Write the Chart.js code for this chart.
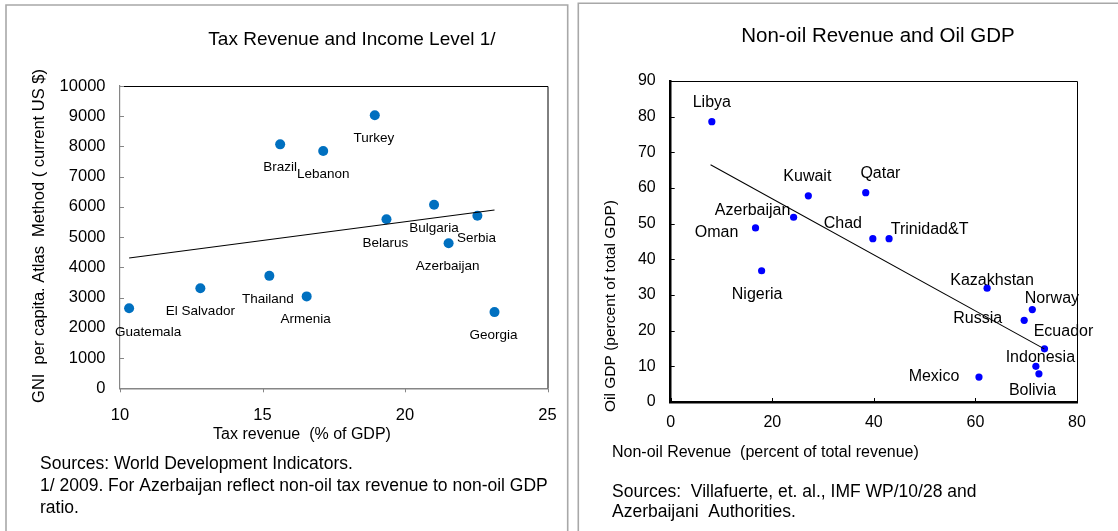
<!DOCTYPE html>
<html><head><meta charset="utf-8">
<script src="https://cdn.jsdelivr.net/npm/chart.js@4.4.1/dist/chart.umd.min.js"></script>
<style>
html,body{margin:0;padding:0;background:#fff;}
#wrap{position:relative;width:1118px;height:531px;overflow:hidden;background:#fff;}
canvas{position:absolute;left:0;top:0;}
</style></head><body>
<div id="wrap"><canvas id="c1" width="1118" height="531"></canvas><canvas id="c2" width="1118" height="531"></canvas></div>
<script>
// ---------- Left chart data: Tax Revenue and Income Level ----------
const taxCountries = ['Brazil','Lebanon','Turkey','Belarus','Bulgaria','Serbia','Azerbaijan','Guatemala','El Salvador','Thailand','Armenia','Georgia'];
const taxRevenue   = [15.62, 17.13, 18.94, 19.35, 21.02, 22.54, 21.53, 10.32, 12.82, 15.24, 16.55, 23.14];
const gniPerCapita = [8070, 7850, 9030, 5590, 6070, 5710, 4800, 2650, 3310, 3720, 3040, 2520];
const taxTrendX = [10.32, 23.14];
const taxTrendY = [4310, 5900];
const taxXTicks = [10, 15, 20, 25];
const taxYTicks = [0, 1000, 2000, 3000, 4000, 5000, 6000, 7000, 8000, 9000, 10000];

// ---------- Right chart data: Non-oil Revenue and Oil GDP ----------
const oilCountries  = ['Libya','Kuwait','Qatar','Azerbaijan','Oman','Chad','Trinidad&T','Nigeria','Kazakhstan','Norway','Russia','Ecuador','Indonesia','Bolivia','Mexico'];
const nonOilRevenue = [8.1, 27.1, 38.4, 24.2, 16.7, 39.8, 43.0, 17.9, 62.3, 71.2, 69.6, 73.6, 71.9, 72.5, 60.7];
const oilGdp        = [78.6, 57.8, 58.7, 51.8, 48.8, 45.8, 45.8, 36.8, 31.9, 25.9, 22.9, 14.9, 10.0, 7.9, 7.0];
const oilTrendX = [7.85, 73.55];
const oilTrendY = [66.5, 14.9];
const oilXTicks = [0, 20, 40, 60, 80];
const oilYTicks = [0, 10, 20, 30, 40, 50, 60, 70, 80, 90];

// ---------- label offsets (layout, not data) ----------
const taxLabelOffsets = [[0,23],[0,23],[-1,23],[-1,23.5],[0,23.5],[-1,23],[-1,23.5],[19,24.5],[0,23.5],[-1.5,23],[-1,23],[-1,23]];
const oilLabelOffsets = [[0,-19],[-1,-19.3],[14.7,-19.4],[-41,-6.3],[-39,4.7],[-30,-14.7],[40.5,-9.4],[-4.5,24.3],[5,-7.3],[19.6,-11.4],[-46.5,-1.3],[19,-17.7],[4.5,-8.6],[-6.4,17],[-45,0]];

const FONT = '"Liberation Sans", Arial, sans-serif';

const decor = {
  id: 'decor',
  afterDraw(chart, args, o) {
    const ctx = chart.ctx, a = chart.chartArea;
    ctx.save();
    // panel border
    ctx.strokeStyle = '#a8a8a8'; ctx.lineWidth = 1.6;
    ctx.beginPath();
    o.panel.forEach((p, i) => i ? ctx.lineTo(p[0], p[1]) : ctx.moveTo(p[0], p[1]));
    ctx.stroke();
    // top/right plot border
    ctx.strokeStyle = '#000'; ctx.lineWidth = 1;
    ctx.beginPath();
    ctx.moveTo(a.left, a.top + 0.5); ctx.lineTo(a.right + 0.5, a.top + 0.5); ctx.lineTo(a.right + 0.5, a.bottom);
    ctx.stroke();
    // tick marks
    ctx.strokeStyle = o.tickColor; ctx.lineWidth = 1;
    const xs = chart.scales.x, ys = chart.scales.y;
    ys.ticks.forEach(t => {
      const py = Math.round(ys.getPixelForValue(t.value)) + 0.5;
      ctx.beginPath(); ctx.moveTo(a.left, py); ctx.lineTo(a.left + o.yTick, py); ctx.stroke();
    });
    xs.ticks.forEach(t => {
      const px = Math.round(xs.getPixelForValue(t.value)) + 0.5;
      ctx.beginPath(); ctx.moveTo(px, a.bottom); ctx.lineTo(px, a.bottom + o.xTick); ctx.stroke();
    });
    // data labels
    ctx.fillStyle = '#000';
    ctx.textAlign = 'center'; ctx.textBaseline = 'middle';
    chart.data.datasets.forEach((ds, di) => {
      if (!ds.labels) return;
      const meta = chart.getDatasetMeta(di);
      ctx.font = o.labelFont;
      meta.data.forEach((el, i) => {
        const off = ds.labelOffsets[i];
        ctx.fillText(ds.labels[i], el.x + off[0], el.y + off[1]);
      });
    });
    // free texts
    o.texts.forEach(t => {
      ctx.save();
      ctx.font = t.font; ctx.fillStyle = '#000';
      ctx.textAlign = t.align || 'left'; ctx.textBaseline = 'middle';
      ctx.translate(t.x, t.y);
      if (t.rot) ctx.rotate(t.rot);
      ctx.fillText(t.text, 0, 0);
      ctx.restore();
    });
    ctx.restore();
  }
};

function ticksFrom(arr) { return s => { s.ticks = arr.map(v => ({ value: v })); }; }

// ---------- Chart 1 ----------
new Chart(document.getElementById('c1'), {
  type: 'scatter',
  data: { datasets: [
    { data: taxTrendX.map((x, i) => ({ x, y: taxTrendY[i] })), showLine: true, pointRadius: 0, borderColor: '#000', borderWidth: 1.1 },
    { data: taxRevenue.map((x, i) => ({ x, y: gniPerCapita[i] })), pointRadius: 5, pointBackgroundColor: '#0070C0', pointBorderColor: '#0070C0', pointBorderWidth: 0,
      labels: taxCountries, labelOffsets: taxLabelOffsets }
  ]},
  options: {
    responsive: false, animation: false, devicePixelRatio: 1,
    layout: { padding: { left: 40, top: 86, right: 1118 - 547.5, bottom: 531 - 388.3 - 45 } },
    plugins: {
      legend: { display: false }, tooltip: { enabled: false },
      decor: {
        panel: [[6, 535], [6, 5], [567.7, 5], [567.7, 535]],
        tickColor: '#868686', yTick: 4, xTick: 4,
        labelFont: '13.5px ' + FONT,
        texts: [
          { text: 'Tax Revenue and Income Level 1/', x: 352, y: 40, font: '19px ' + FONT, align: 'center' },
          { text: 'GNI  per capita. Atlas  Method ( current US $)', x: 39.5, y: 236, font: '16.5px ' + FONT, align: 'center', rot: -Math.PI / 2 },
          { text: 'Tax revenue  (% of GDP)', x: 302, y: 434.3, font: '16px ' + FONT, align: 'center' },
          { text: 'Sources: World Development Indicators.', x: 40, y: 464, font: '17.5px ' + FONT },
          { text: '1/ 2009. For Azerbaijan reflect non-oil tax revenue to non-oil GDP', x: 40, y: 486, font: '17.5px ' + FONT },
          { text: 'ratio.', x: 40, y: 508, font: '17.5px ' + FONT }
        ]
      }
    },
    scales: {
      x: { type: 'linear', min: 10, max: 25, afterBuildTicks: ticksFrom(taxXTicks), afterFit: s => { s.height = 45; },
        grid: { display: false, drawTicks: false }, border: { display: true, color: '#868686', width: 1.5 },
        ticks: { padding: 17, color: '#000', font: { family: FONT, size: 16.5 }, callback: v => String(v) } },
      y: { type: 'linear', min: 0, max: 10000, afterBuildTicks: ticksFrom(taxYTicks), afterFit: s => { s.width = 80; },
        grid: { display: false, drawTicks: false }, border: { display: true, color: '#868686', width: 1.2 },
        ticks: { padding: 14.5, color: '#000', font: { family: FONT, size: 16.5 }, callback: v => String(v) } }
    }
  },
  plugins: [decor]
});

// ---------- Chart 2 ----------
new Chart(document.getElementById('c2'), {
  type: 'scatter',
  data: { datasets: [
    { data: oilTrendX.map((x, i) => ({ x, y: oilTrendY[i] })), showLine: true, pointRadius: 0, borderColor: '#000', borderWidth: 1.1 },
    { data: nonOilRevenue.map((x, i) => ({ x, y: oilGdp[i] })), pointRadius: 3.6, pointBackgroundColor: '#0000FF', pointBorderColor: '#0000FF', pointBorderWidth: 0,
      labels: oilCountries, labelOffsets: oilLabelOffsets }
  ]},
  options: {
    responsive: false, animation: false, devicePixelRatio: 1,
    layout: { padding: { left: 610.7, top: 81, right: 1118 - 1077, bottom: 531 - 402 - 45 } },
    plugins: {
      legend: { display: false }, tooltip: { enabled: false },
      decor: {
        panel: [[578.3, 535], [578.3, 3.3], [1125, 3.3]],
        tickColor: '#000', yTick: 4, xTick: -4,
        labelFont: '16px ' + FONT,
        texts: [
          { text: 'Non-oil Revenue and Oil GDP', x: 878, y: 36, font: '20.5px ' + FONT, align: 'center' },
          { text: 'Oil GDP (percent of total GDP)', x: 610.5, y: 306, font: '15.5px ' + FONT, align: 'center', rot: -Math.PI / 2 },
          { text: 'Non-oil Revenue  (percent of total revenue)', x: 612, y: 452.7, font: '16px ' + FONT },
          { text: 'Sources:  Villafuerte, et. al., IMF WP/10/28 and', x: 612, y: 492.3, font: '17.5px ' + FONT },
          { text: 'Azerbaijani  Authorities.', x: 612, y: 512.3, font: '17.5px ' + FONT }
        ]
      }
    },
    scales: {
      x: { type: 'linear', min: 0, max: 80, afterBuildTicks: ticksFrom(oilXTicks), afterFit: s => { s.height = 45; },
        grid: { display: false, drawTicks: false }, border: { display: true, color: '#000', width: 2.5 },
        ticks: { padding: 11, color: '#000', font: { family: FONT, size: 16 }, callback: v => String(v) } },
      y: { type: 'linear', min: 0, max: 90, afterBuildTicks: ticksFrom(oilYTicks), afterFit: s => { s.width = 60; },
        grid: { display: false, drawTicks: false }, border: { display: true, color: '#000', width: 2.5 },
        ticks: { padding: 15, color: '#000', font: { family: FONT, size: 16 }, callback: v => String(v) } }
    }
  },
  plugins: [decor]
});
</script>
</body></html>
